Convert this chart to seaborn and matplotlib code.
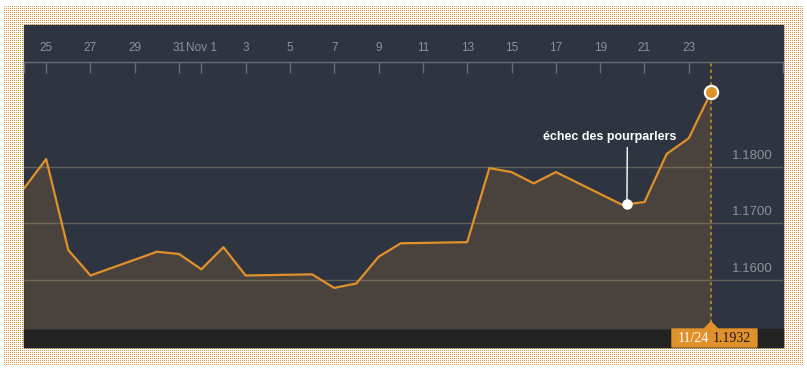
import numpy as np
import pandas as pd
import matplotlib
matplotlib.use('Agg')
import matplotlib.pyplot as plt
import matplotlib.dates as mdates
from matplotlib.patches import Rectangle, Polygon
from matplotlib.transforms import ScaledTranslation
import seaborn as sns

# EUR/USD closes, weekdays only
dates = ['2017-10-24', '2017-10-25', '2017-10-26', '2017-10-27',
         '2017-10-30', '2017-10-31', '2017-11-01', '2017-11-02', '2017-11-03',
         '2017-11-06', '2017-11-07', '2017-11-08', '2017-11-09', '2017-11-10',
         '2017-11-13', '2017-11-14', '2017-11-15', '2017-11-16', '2017-11-17',
         '2017-11-20', '2017-11-21', '2017-11-22', '2017-11-23', '2017-11-24']
rates = [1.1762, 1.1814, 1.1653, 1.1608,
         1.1650, 1.1646, 1.1619, 1.1658, 1.1608,
         1.1610, 1.1586, 1.1594, 1.1641, 1.1665,
         1.1667, 1.1798, 1.1791, 1.1771, 1.1791,
         1.1733, 1.1738, 1.1823, 1.1851, 1.1932]

tick_dates = ['2017-10-25', '2017-10-27', '2017-10-29', '2017-10-31', '2017-11-01',
              '2017-11-03', '2017-11-05', '2017-11-07', '2017-11-09', '2017-11-11',
              '2017-11-13', '2017-11-15', '2017-11-17', '2017-11-19', '2017-11-21',
              '2017-11-23']
tick_labels = ['25', '27', '29', '31', 'Nov 1', '3', '5', '7', '9', '11',
               '13', '15', '17', '19', '21', '23']
y_ticks = [1.16, 1.17, 1.18]
y_labels = ['1.1600', '1.1700', '1.1800']

note_text = 'échec des pourparlers'
note_date = '2017-11-20 05:00'
note_rate = 1.1735

x_start = '2017-10-24 00:00'
x_end = '2017-11-27 06:00'
y_bottom, y_top = 1.15133, 1.19858

ORANGE = '#e0912a'
PANEL = '#2e3440'
FILL = '#4a433d'
GREY_TXT = '#8c919a'

df = pd.DataFrame({'date': pd.to_datetime(dates), 'rate': rates})

sns.set_theme(style='dark')
plt.rcParams['font.family'] = ['Liberation Sans', 'DejaVu Sans']

W, H = 807, 370
fig = plt.figure(figsize=(W / 100, H / 100), dpi=100)
fig.patch.set_facecolor('white')

# dotted orange frame
bg = np.ones((H, W, 3))
yy, xx = np.mgrid[0:H, 0:W]
dots = (yy % 2 == 0) & (xx % 2 == 0) & (xx >= 4) & (xx <= 803) & (yy >= 5) & (yy <= 365)
bg[dots] = matplotlib.colors.to_rgb('#e0963a')
fig.figimage(bg, 0, 0, origin='upper', zorder=0)


def fr(x, y_from_top):
    return x / W, 1 - y_from_top / H


# dark panel and bottom strip
fig.add_artist(Rectangle(fr(24, 347), 759 / W, 322 / H, transform=fig.transFigure,
                         color=PANEL, zorder=1))
fig.add_artist(Rectangle(fr(24, 347), 759 / W, 18 / H, transform=fig.transFigure,
                         color='#222222', zorder=1))

ax = fig.add_axes([24 / W, 1 - 329 / H, 759 / W, 267 / H])
ax.set_facecolor('none')
ax.set_zorder(2)

ax.fill_between(df['date'], df['rate'], y_bottom, color=FILL, lw=0, zorder=1)
sns.lineplot(data=df, x='date', y='rate', ax=ax, color=ORANGE, lw=1.6, zorder=4)

last_date, last_rate = df['date'].iloc[-1], df['rate'].iloc[-1]
ax.axvline(last_date, color='#a5802a', ls=(0, (1.5, 1.5)), lw=1.5, zorder=3)
ax.plot(last_date, last_rate, 'o', ms=9.5, mfc=ORANGE, mec='white', mew=1.6, zorder=6)

nd = pd.Timestamp(note_date)
ax.plot(nd, note_rate, 'o', ms=6.5, mfc='white', mec='white', zorder=6)
ax.annotate(note_text, xy=(mdates.date2num(nd), note_rate), xytext=(-17, 67),
            textcoords='offset pixels', ha='center', va='center', color='white',
            fontsize=9, fontweight='bold',
            arrowprops=dict(arrowstyle='-', color='white', lw=1, relpos=(0.63, 0),
                            shrinkA=1, shrinkB=0), zorder=7)

ax.set_xlim(pd.Timestamp(x_start), pd.Timestamp(x_end))
ax.set_ylim(y_bottom, y_top)
ax.set_xlabel('')
ax.set_ylabel('')

ax.set_xticks([pd.Timestamp(d) for d in tick_dates + [x_start, x_end]])
ax.set_xticklabels(tick_labels + ['', ''])
ax.xaxis.tick_top()
ax.tick_params(axis='x', direction='in', length=8, width=1, color='#666b74',
               pad=6, labelsize=8.5, labelcolor=GREY_TXT)

ax.set_yticks(y_ticks)
ax.set_yticklabels(y_labels)
ax.yaxis.tick_right()
ax.tick_params(axis='y', length=0, pad=-7.2, labelsize=9.5, labelcolor=GREY_TXT)
ax.grid(axis='y', color='#b8a88c', alpha=0.38, lw=1)
ax.grid(axis='x', visible=False)
ax.set_axisbelow(False)
for lab in ax.get_yticklabels():
    lab.set_ha('right')
    lab.set_transform(lab.get_transform() + ScaledTranslation(0, 9 / 72, fig.dpi_scale_trans))

for side in ['left', 'right', 'bottom']:
    ax.spines[side].set_visible(False)
ax.spines['top'].set_color('#666b74')
ax.spines['top'].set_linewidth(1)

# tooltip under the last point
px, py = ax.transData.transform((mdates.date2num(last_date), y_bottom))
verts = [(px - 39, py - 18), (px + 46, py - 18), (px + 46, py), (px + 7, py),
         (px, py + 7), (px - 7, py), (px - 39, py)]
fig.add_artist(Polygon([(vx / W, vy / H) for vx, vy in verts], closed=True,
                       transform=fig.transFigure, color=ORANGE, zorder=5))
fig.text((px - 18) / W, (py - 9) / H, last_date.strftime('%m/%d'), ha='center',
         va='center', color='white', family='Liberation Serif', fontsize=10, zorder=6)
fig.text((px + 21) / W, (py - 9) / H, f'{last_rate:.4f}', ha='center',
         va='center', color='#1a1a1a', family='Liberation Serif', fontsize=10, zorder=6)

fig.savefig('out.png', dpi=100)
